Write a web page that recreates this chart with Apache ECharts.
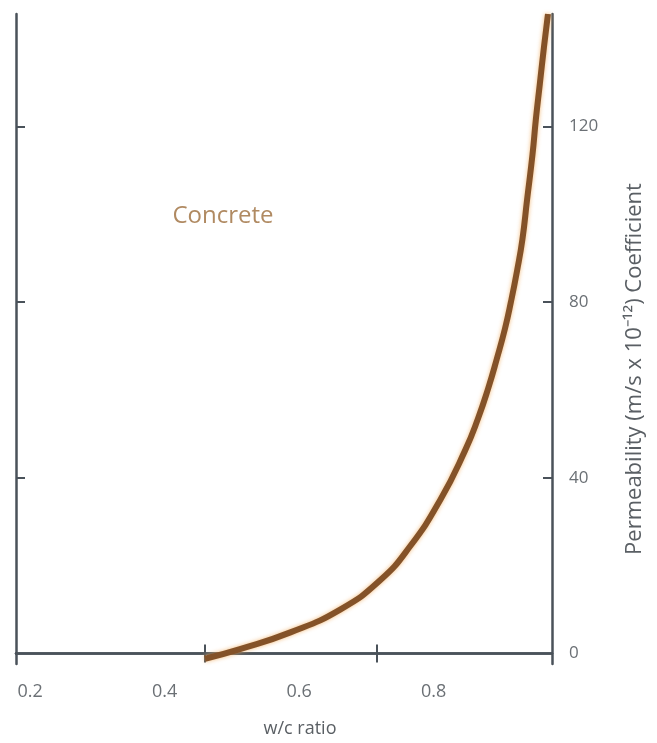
<!DOCTYPE html>
<html>
<head>
<meta charset="utf-8">
<script src="https://cdn.jsdelivr.net/npm/echarts@6/dist/echarts.min.js"></script>
<style>
  html, body { margin: 0; padding: 0; background: #fff; }
  #chart { width: 657px; height: 743px; }
</style>
</head>
<body>
<div id="chart"></div>
<script>
// w/c ratio vs permeability
var wc_ratio = [0.460, 0.512, 0.587, 0.661, 0.720, 0.765, 0.810, 0.847, 0.866, 0.881, 0.894, 0.906, 0.915, 0.924, 0.932, 0.939, 0.947, 0.952, 0.958, 0.964, 0.970];
var permeability = [-1.2, 1.0, 4.8, 10.0, 16.6, 24.4, 35.0, 46.3, 53.5, 60.3, 67.1, 73.9, 80.1, 87.1, 94.3, 103.4, 113.6, 121.6, 129.8, 138.0, 145.6];
var x_labels = [0.2, 0.4, 0.6, 0.8];
var x_ticks = [0.46, 0.716];
var y_labels = [0, 40, 80, 120];
var y_ticks = [40, 80, 120];

var axis_color = '#4a525a';
var label_color = '#6b7075';

var curve_data = [];
for (var i = 0; i < wc_ratio.length; i++) {
	curve_data.push([wc_ratio[i], permeability[i]]);
}

var chart = echarts.init(document.getElementById('chart'));
var option = {
	backgroundColor: '#fff',
	animation: false,
	grid: { left: 16, right: 105, top: 14, bottom: 76 },
	graphic: [
		{
			type: 'text',
			x: 223,
			y: 216,
			style: { text: 'Concrete', fontSize: 24, fill: '#b08a62', fontFamily: 'Open Sans', align: 'center', verticalAlign: 'middle' }
		},
		{
			type: 'text',
			x: 635,
			y: 369,
			rotation: Math.PI / 2,
			style: {
				text: 'Permeability (m/s x 10⁻¹²) Coefficient',
				fontSize: 22,
				fill: '#5a5f64',
				fontFamily: 'Open Sans',
				align: 'center',
				verticalAlign: 'middle'
			}
		}
	],
	xAxis: [
		{
			type: 'value',
			position: 'bottom',
			min: 0.179,
			max: 0.976,
			name: 'w/c ratio',
			nameLocation: 'middle',
			nameGap: 56,
			nameTextStyle: { color: '#5a5f64', fontSize: 18, fontFamily: 'Open Sans', padding: [0, 0, 0, 32] },
			axisLine: { show: true, lineStyle: { color: axis_color, width: 2.5 } },
			axisTick: { show: true, inside: true, length: 9, customValues: x_ticks, lineStyle: { color: axis_color, width: 2 } },
			axisLabel: { customValues: x_labels, color: label_color, fontSize: 18, margin: 19, fontFamily: 'Open Sans' },
			splitLine: { show: false }
		},
		{
			type: 'value',
			position: 'top',
			min: 0.179,
			max: 0.976,
			axisLine: { show: true, lineStyle: { color: axis_color, width: 2.5 } },
			axisTick: { show: true, inside: true, length: 9, customValues: x_ticks, lineStyle: { color: axis_color, width: 2 } },
			axisLabel: { show: false },
			splitLine: { show: false }
		}
	],
	yAxis: [
		{
			type: 'value',
			position: 'left',
			min: -2.4,
			max: 145.6,
			axisLine: { show: true, lineStyle: { color: axis_color, width: 2.5 } },
			axisTick: { show: true, inside: true, length: 9, customValues: y_ticks, lineStyle: { color: axis_color, width: 2 } },
			axisLabel: { show: false },
			splitLine: { show: false }
		},
		{
			type: 'value',
			position: 'right',
			min: -2.4,
			max: 145.6,
			axisLine: { show: true, lineStyle: { color: axis_color, width: 2.5 } },
			axisTick: { show: true, inside: true, length: 9, customValues: y_ticks, lineStyle: { color: axis_color, width: 2 } },
			axisLabel: { customValues: y_labels, color: label_color, fontSize: 17, margin: 17, fontFamily: 'Open Sans' },
			splitLine: { show: false }
		}
	],
	series: [
		{
			type: 'line',
			xAxisIndex: 0,
			yAxisIndex: 0,
			smooth: 0.5,
			showSymbol: false,
			clip: false,
			lineStyle: {
				color: '#845228',
				width: 6,
				shadowColor: 'rgba(240, 170, 90, 0.8)',
				shadowBlur: 4
			},
			data: curve_data
		}
	]
};
chart.setOption(option, true);
</script>
</body>
</html>
